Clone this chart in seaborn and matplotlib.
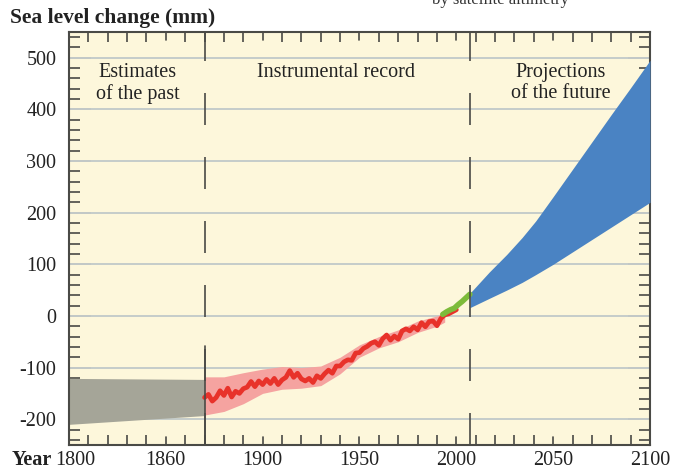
import numpy as np
import pandas as pd
import matplotlib
matplotlib.use("Agg")
import matplotlib.pyplot as plt
from matplotlib.ticker import MultipleLocator, FixedLocator
import seaborn as sns


# -------------------------
# DATA
# -------------------------
past_years = [1800, 1870]
past_upper = [-121, -123]
past_lower = [-210, -193]

record_years = list(range(1870, 2001, 2))
record_mm = [-158, -152, -165, -158, -145, -154, -140, -157, -146, -150,
             -141, -138, -127, -137, -126, -133, -123, -131, -121, -133,
             -124, -119, -106, -119, -111, -122, -126, -121, -129, -116,
             -121, -112, -105, -111, -97, -97, -89, -85, -86, -72,
             -71, -63, -59, -53, -50, -57, -44, -37, -47, -39,
             -45, -29, -25, -29, -21, -27, -13, -21, -11, -10,
             -19, -5, 2, 4, 8, 12]

band_years = [1870, 1880, 1890, 1900, 1910, 1920, 1930, 1940, 1950, 1960, 1970, 1980, 1990, 1994]
band_upper = [-118, -118, -110, -103, -98, -100, -97, -80, -56, -40, -27, -10, 0, 6]
band_lower = [-192, -185, -170, -150, -142, -140, -135, -112, -80, -62, -50, -32, -20, -12]

satellite_years = [1993, 1995, 1997, 1999, 2001, 2003, 2005, 2007]
satellite_mm = [3, 8, 12, 15, 22, 28, 35, 42]

proj_years = [2007, 2017, 2026, 2034, 2041, 2050, 2060, 2070, 2080, 2090, 2100]
proj_upper = [44, 85, 119, 152, 184, 231, 284, 337, 390, 442, 495]
proj_lower = [16, 34, 50, 65, 80, 100, 124, 148, 172, 196, 220]

period_breaks = [1870, 2007]

xtick_pos = [1803, 1850, 1900, 1950, 2000, 2050, 2100]
xtick_labels = ["1800", "1860", "1900", "1950", "2000", "2050", "2100"]
ytick_pos = [-200, -100, 0, 100, 200, 300, 400, 500]
ytick_labels = ["-200", "-100", "0", "100", "200", "300", "400", "500"]

# -------------------------
# STYLE
# -------------------------
sns.set_style("white")
plt.rcParams["font.family"] = ["Liberation Serif", "DejaVu Serif"]
plt.rcParams["axes.unicode_minus"] = False

BG = "#FDF7DB"
GRID = "#C5CCCA"
DARK = "#4A4A46"
INK = "#222222"

fig = plt.figure(figsize=(6.85, 4.70), dpi=100)
ax = fig.add_axes([0.1007, 0.0532, 0.8482, 0.8788])
ax.set_facecolor(BG)

# -------------------------
# MARKS
# -------------------------
for y in ytick_pos:
    ax.axhline(y, color=GRID, lw=1.4, zorder=1)

ax.fill_between(past_years, past_lower, past_upper, color="#A5A598", lw=0, zorder=2)
ax.fill_between(band_years, band_lower, band_upper, color="#F5A3A0", lw=0, zorder=2)

rec = pd.DataFrame({"year": record_years, "mm": record_mm})
sns.lineplot(data=rec, x="year", y="mm", ax=ax, color="#E8322A", lw=3.4, zorder=3)

sat = pd.DataFrame({"year": satellite_years, "mm": satellite_mm})
sns.lineplot(data=sat, x="year", y="mm", ax=ax, color="#7DBB3A", lw=4.0, zorder=4,
             solid_capstyle="round")

ax.fill_between(proj_years, proj_lower, proj_upper, color="#4A83C3", lw=0, zorder=3)

# dashed period dividers, dash pattern starting from the bottom
for xb in period_breaks:
    ax.plot([xb, xb], [-250, 550], color=DARK, lw=1.2,
            linestyle=(0, (19.2, 19.2)), zorder=5)
# the first divider runs solid through the lower part
ax.plot([period_breaks[0]] * 2, [-250, -58], color=DARK, lw=1.2, zorder=5)

# -------------------------
# AXES
# -------------------------
ax.set_xlim(1800, 2100)
ax.set_ylim(-250, 550)
ax.set_xlabel("")
ax.set_ylabel("")

ax.xaxis.set_major_locator(FixedLocator(xtick_pos))
ax.set_xticklabels(xtick_labels)
ax.xaxis.set_minor_locator(FixedLocator(list(range(1810, 2100, 10)) + [1850]))
ax.yaxis.set_major_locator(FixedLocator(ytick_pos))
ax.set_yticklabels(ytick_labels)
ax.yaxis.set_minor_locator(MultipleLocator(20))

ax.tick_params(axis="x", which="major", direction="in", length=0, pad=4,
               labelsize=14.5, colors=DARK, labelcolor=INK, top=False, bottom=True)
ax.tick_params(axis="x", which="minor", direction="in", length=7, width=1.2,
               colors=DARK, top=True, bottom=True)
ax.tick_params(axis="y", which="major", direction="in", length=16, width=1.3, pad=9,
               labelsize=14.5, colors=DARK, labelcolor=INK, left=True, right=True)
ax.tick_params(axis="y", which="minor", direction="in", length=8, width=1.2,
               colors=DARK, left=True, right=True)

# longer 50-year marks on top and bottom
for xm in [1850, 1900, 1950, 2000, 2050]:
    ax.plot([xm, xm], [-250, -234], color=DARK, lw=1.2, zorder=6, clip_on=False)
    ax.plot([xm, xm], [550, 534], color=DARK, lw=1.2, zorder=6, clip_on=False)

for s in ax.spines.values():
    s.set_visible(True)
    s.set_color(DARK)
    s.set_linewidth(1.5)

# -------------------------
# TEXT
# -------------------------
ax.text(1835.5, 471, "Estimates", ha="center", va="center", fontsize=14.5, color=INK)
ax.text(1835.5, 430, "of the past", ha="center", va="center", fontsize=14.5, color=INK)
ax.text(1938, 471, "Instrumental record", ha="center", va="center", fontsize=14.5, color=INK)
ax.text(2054, 471, "Projections", ha="center", va="center", fontsize=14.5, color=INK)
ax.text(2054, 430, "of the future", ha="center", va="center", fontsize=14.5, color=INK)

fig.text(0.014, 0.962, "Sea level change (mm)", fontsize=15.5, fontweight="bold",
         ha="left", va="center", color=INK)
fig.text(0.017, 0.022, "Year", fontsize=14.5, fontweight="bold",
         ha="left", va="center", color=INK)
fig.text(0.63, 1.0, "by satellite altimetry", fontsize=12, ha="left", va="center",
         color="#333333")

fig.savefig("out.png", dpi=100, facecolor="white")
